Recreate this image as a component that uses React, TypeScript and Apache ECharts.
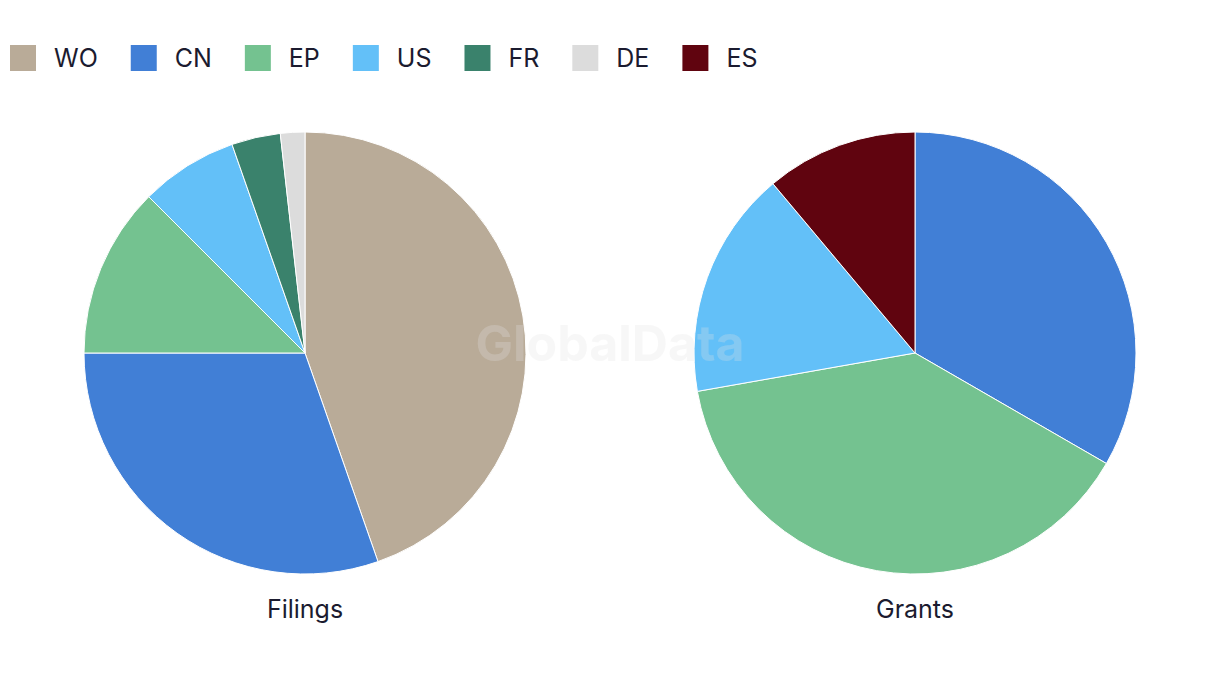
import React, { useEffect, useRef } from "react";
import * as echarts from "echarts";

const legendNames = ["WO", "CN", "EP", "US", "FR", "DE", "ES"];
const colorByName: Record<string, string> = {
  WO: "#b9ab98",
  CN: "#417fd6",
  EP: "#74c290",
  US: "#63c0f8",
  FR: "#3a826c",
  DE: "#dcdcdc",
  ES: "#60040f",
};

const filingsNames = ["WO", "CN", "EP", "US", "FR", "DE"];
const filingsValues = [25, 17, 7, 4, 2, 1];

const grantsNames = ["CN", "EP", "US", "ES"];
const grantsValues = [6, 7, 3, 2];

const pieTitles = ["Filings", "Grants"];

const textColor = "#1b1b2f";
const fontFamily = "Inter, 'Noto Sans', sans-serif";

function toData(names: string[], values: number[]) {
  return names.map((n, i) => ({
    name: n,
    value: values[i],
    itemStyle: { color: colorByName[n] },
  }));
}

export default function App() {
  const ref = useRef<HTMLDivElement>(null);
  useEffect(() => {
    if (!ref.current) return;
    const chart = echarts.init(ref.current, undefined, { renderer: "svg" });
    const pieCommon = {
      type: "pie",
      radius: 221,
      startAngle: 90,
      clockwise: true,
      label: { show: false },
      labelLine: { show: false },
      emphasis: { disabled: true },
      itemStyle: { borderColor: "#ffffff", borderWidth: 1 },
    };
    chart.setOption({
      animation: false,
      backgroundColor: "#ffffff",
      legend: {
        data: legendNames,
        left: -5,
        top: 30,
        icon: "rect",
        itemWidth: 28,
        itemHeight: 28,
        itemGap: 31,
        textStyle: {
          color: textColor,
          fontSize: 25,
          fontFamily,
          padding: [0, 0, 0, 12],
        },
      },
      graphic: [
        {
          type: "text",
          x: 602,
          y: 335,
          z: 100,
          style: {
            text: "GlobalData",
            fill: "rgba(225,225,225,0.27)",
            font: "bold 50px Inter, 'Noto Sans', sans-serif",
            textAlign: "center",
            textVerticalAlign: "middle",
          },
        },
        {
          type: "text",
          x: 297,
          y: 601,
          z: 100,
          style: {
            text: pieTitles[0],
            fill: textColor,
            font: "25px Inter, 'Noto Sans', sans-serif",
            textAlign: "center",
            textVerticalAlign: "middle",
          },
        },
        {
          type: "text",
          x: 907,
          y: 601,
          z: 100,
          style: {
            text: pieTitles[1],
            fill: textColor,
            font: "25px Inter, 'Noto Sans', sans-serif",
            textAlign: "center",
            textVerticalAlign: "middle",
          },
        },
      ],
      series: [
        {
          ...pieCommon,
          name: pieTitles[0],
          center: [297, 345],
          data: toData(filingsNames, filingsValues),
        },
        {
          ...pieCommon,
          name: pieTitles[1],
          center: [907, 345],
          data: toData(grantsNames, grantsValues),
        },
      ],
    });
    return () => chart.dispose();
  }, []);
  return <div ref={ref} style={{ width: 1204, height: 670 }} />;
}
